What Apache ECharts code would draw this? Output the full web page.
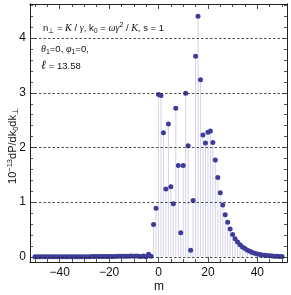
<!DOCTYPE html>
<html><head><meta charset="utf-8">
<script src="https://cdn.jsdelivr.net/npm/echarts@6/dist/echarts.min.js"></script>
<style>html,body{margin:0;padding:0;background:#fff}#c{width:291px;height:295px}</style>
</head><body><div id="c"></div>
<script>
const mValues = [-50,-49,-48,-47,-46,-45,-44,-43,-42,-41,-40,-39,-38,-37,-36,-35,-34,-33,-32,-31,-30,-29,-28,-27,-26,-25,-24,-23,-22,-21,-20,-19,-18,-17,-16,-15,-14,-13,-12,-11,-10,-9,-8,-7,-6,-5,-4,-3,-2,-1,0,1,2,3,4,5,6,7,8,9,10,11,12,13,14,15,16,17,18,19,20,21,22,23,24,25,26,27,28,29,30,31,32,33,34,35,36,37,38,39,40,41,42,43,44,45,46,47,48,49,50];
const dP = [0.001,0.001,0.001,0.001,0.001,0.001,0.001,0.001,0.001,0.001,0.002,0.002,0.002,0.002,0.002,0.002,0.002,0.002,0.003,0.003,0.003,0.003,0.003,0.004,0.004,0.004,0.005,0.005,0.005,0.006,0.006,0.007,0.007,0.008,0.008,0.009,0.010,0.010,0.012,0.013,0.012,0.016,0.010,0.005,0.015,0.003,0.045,0.010,0.59,0.89,2.97,2.95,2.27,1.24,2.43,1.28,0.97,2.72,1.67,0.44,1.67,2.99,2.03,0.12,1.03,3.67,4.40,3.24,2.23,2.08,2.28,2.30,2.09,1.77,1.45,1.17,0.95,0.77,0.63,0.51,0.41,0.33,0.27,0.22,0.18,0.15,0.12,0.10,0.08,0.065,0.052,0.042,0.034,0.027,0.022,0.018,0.014,0.011,0.009,0.007,0.006];
const xMajorTicks = [-40,-20,0,20,40];
const xMinorTicks = [-50,-45,-35,-30,-25,-15,-10,-5,5,10,15,25,30,35,45,50];
const yMajorTicks = [0,1,2,3,4];
const yMinorTicks = [0.2,0.4,0.6,0.8,1.2,1.4,1.6,1.8,2.2,2.4,2.6,2.8,3.2,3.4,3.6,3.8,4.2,4.4,4.6];

const pts = mValues.map((m,i)=>[m,dP[i]]);
const XMIN=-52, XMAX=52, YMIN=-0.095, YMAX=4.625;
const frame = '#222';
const fmt = v => v<0 ? '\u2212'+Math.abs(v) : String(v);

function xAx(pos, ticks, len, labels){
  return {type:'value', min:XMIN, max:XMAX, position:pos,
    axisLine:{show:true, onZero:false, lineStyle:{color:frame,width:1}},
    axisTick:{show:true, inside:true, length:len, customValues:ticks, lineStyle:{color:frame,width:0.8}},
    axisLabel:{show:labels, customValues:xMajorTicks, formatter:fmt, color:'#111', fontSize:12, fontFamily:'Liberation Sans', margin:5},
    splitLine:{show:false}};
}
function yAx(pos, ticks, len, labels){
  return {type:'value', min:YMIN, max:YMAX, position:pos,
    axisLine:{show:true, onZero:false, lineStyle:{color:frame,width:1}},
    axisTick:{show:true, inside:true, length:len, customValues:ticks, lineStyle:{color:frame,width:0.8}},
    axisLabel:{show:labels, customValues:yMajorTicks, color:'#111', fontSize:12, fontFamily:'Liberation Sans', margin:4},
    splitLine:{show:false}};
}

const chart = echarts.init(document.getElementById('c'), null, {renderer:'canvas'});
const rich = {
  sub:{fontSize:7, fontFamily:'Liberation Sans', verticalAlign:'bottom', lineHeight:13},
  sup:{fontSize:7, fontFamily:'Liberation Sans', verticalAlign:'top', lineHeight:13},
  i:{fontSize:10, fontStyle:'italic', fontFamily:'Liberation Serif', lineHeight:13},
  n:{fontSize:9.5, fontFamily:'Liberation Sans', lineHeight:13},
  L:{fontSize:12.5, fontStyle:'italic', fontFamily:'DejaVu Serif', lineHeight:13}
};
chart.setOption({
  animation:false,
  grid:{left:30, right:4, top:4, bottom:33, containLabel:false},
  xAxis:[xAx('bottom', xMajorTicks, 5, true), xAx('bottom', xMinorTicks, 3, false), xAx('top', xMajorTicks, 5, false), xAx('top', xMinorTicks, 3, false)],
  yAxis:[yAx('left', yMajorTicks, 5, true), yAx('left', yMinorTicks, 3, false), yAx('right', yMajorTicks, 5, false), yAx('right', yMinorTicks, 3, false)],
  series:[
    {type:'bar', data:pts, barWidth:1, itemStyle:{color:'#d3d3eb'}, silent:true, z:1,
     markLine:{silent:true, symbol:'none', label:{show:false},
       lineStyle:{color:'#222', type:[2.5,2], width:0.8},
       data: yMajorTicks.map(v=>({yAxis:v}))}},
    {type:'scatter', data:pts, symbolSize:5, itemStyle:{color:'#3d3d99', opacity:1}, z:3}
  ],
  graphic:[
    {type:'text', x:13, y:146, rotation:Math.PI/2, z:10,
     style:{text:'{n|10}{sup|\u221213}{n|dP/dk}{sub|0}{n|dk}{sub|\u22a5}', align:'center', verticalAlign:'middle', fill:'#111',
       rich:{n:{fontSize:11, fontFamily:'Liberation Sans', lineHeight:14}, sup:{fontSize:7.5, fontFamily:'Liberation Sans', verticalAlign:'top', lineHeight:14}, sub:{fontSize:7.5, fontFamily:'Liberation Sans', verticalAlign:'bottom', lineHeight:14}}}},
    {type:'text', x:43, y:28, z:10,
     style:{text:'{n|n}{sub|\u22a5}{n| = }{i|K}{n| / }{i|\u03b3}{n|, k}{sub|0}{n| = }{i|\u03c9\u03b3}{sup|2}{n| / }{i|K}{n|, s = 1}', verticalAlign:'middle', fill:'#111', rich:rich}},
    {type:'text', x:41, y:49, z:10,
     style:{text:'{i|\u03b8}{sub|1}{n|=0, }{i|\u03c6}{sub|1}{n|=0,}', verticalAlign:'middle', fill:'#111', rich:rich}},
    {type:'text', x:41, y:66, z:10,
     style:{text:'{L|\u2113}{n| = 13.58}', verticalAlign:'middle', fill:'#111', rich:rich}},
    {type:'text', x:159, y:287, z:10,
     style:{text:'m', align:'center', verticalAlign:'middle', fontSize:12, fontFamily:'Liberation Sans', fill:'#111'}}
  ]
});
</script></body></html>
